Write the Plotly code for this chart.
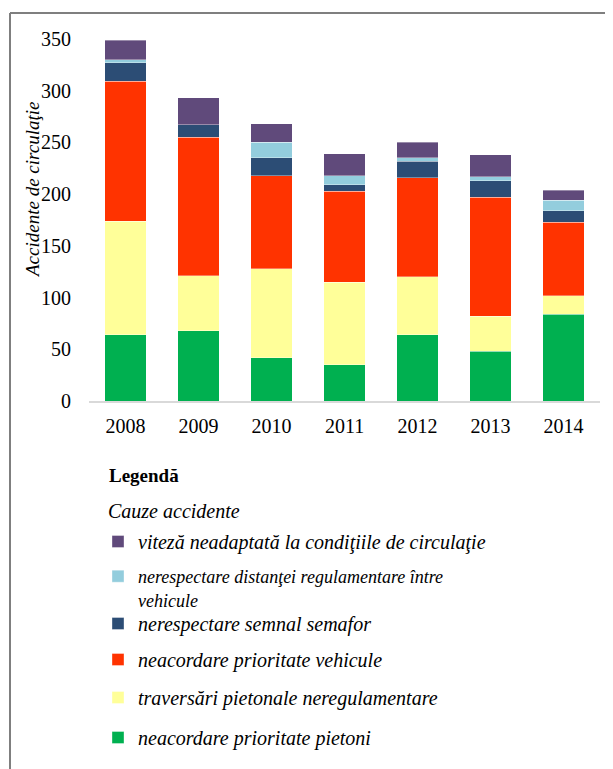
import plotly.graph_objects as go

years = ["2008", "2009", "2010", "2011", "2012", "2013", "2014"]

pietoni = [64, 68, 42, 35, 64, 48, 84]          # neacordare prioritate pietoni
traversari = [110, 53, 86, 80, 56, 34, 18]      # traversări pietonale neregulamentare
vehicule = [135, 134, 90, 88, 96, 115, 71]      # neacordare prioritate vehicule
semafor = [18, 12, 17, 6, 16, 16, 11]           # nerespectare semnal semafor
distanta = [3, 0, 15, 9, 3, 4, 10]              # nerespectare distanței
viteza = [19, 26, 18, 21, 15, 21, 10]           # viteză neadaptată

series = [
    ("neacordare prioritate pietoni", pietoni, "#00B050"),
    ("traversări pietonale neregulamentare", traversari, "#FFFF99"),
    ("neacordare prioritate vehicule", vehicule, "#FF3300"),
    ("nerespectare semnal semafor", semafor, "#2C4D75"),
    ("nerespectare distanţei regulamentare între<br>vehicule", distanta, "#93CDDD"),
    ("viteză neadaptată la condiţiile de circulaţie", viteza, "#604A7B"),
]

OFF = 8  # default page body margin
W, H = 613 - OFF, 769 - OFF
L, T = 89 - OFF, 39 - OFF
R = W - (600 - OFF)
B = H - (401 - OFF)
pw, ph = W - L - R, H - T - B

def px_x(px):  # screen pixel -> paper
    return (px - OFF - L) / pw

def px_y(py):
    return (H - B - (py - OFF)) / ph

FONT = "Liberation Serif"

fig = go.Figure()
leg_centers = {5: 541, 4: 577, 3: 623, 2: 659, 1: 697, 0: 737}
leg_sizes = {5: 20, 4: 18, 3: 20, 2: 20, 1: 20, 0: 20}
for i, (name, vals, col) in enumerate(series):
    lname = "legend" if i == 0 else f"legend{i+1}"
    fig.add_trace(go.Bar(
        x=years, y=vals, name=name,
        marker=dict(color=col, line=dict(color="rgba(255,255,255,0.6)", width=0.6)),
        legend=lname,
    ))

legends = {}
for i in range(6):
    key = "legend" if i == 0 else f"legend{i+1}"
    legends[key] = dict(
        x=px_x(98), y=px_y(leg_centers[i] - 19), xanchor="left", yanchor="top",
        bgcolor="rgba(0,0,0,0)", borderwidth=0,
        font=dict(family=FONT, size=leg_sizes[i], color="#000000", style="italic"),
        itemclick=False, itemdoubleclick=False,
        valign="top",
    )

fig.update_layout(
    width=W, height=H,
    margin=dict(l=L, r=R, t=T, b=B, autoexpand=False),
    barmode="stack", bargap=0.43,
    plot_bgcolor="white", paper_bgcolor="white",
    font=dict(family=FONT, size=20, color="#000000"),
    xaxis=dict(showgrid=False, showline=True, linecolor="#D9D9D9", linewidth=1.5,
               ticks="", tickfont=dict(family=FONT, size=20), ticklabelstandoff=6),
    yaxis=dict(range=[0, 350], dtick=50, showgrid=False, showline=False, zeroline=False,
               ticks="", tickfont=dict(family=FONT, size=20), ticklabelstandoff=17),
    showlegend=True,
    **legends,
)

fig.add_annotation(text="Accidente de circulaţie", textangle=-90,
                   xref="paper", yref="paper", x=px_x(32), y=px_y(190),
                   xanchor="center", yanchor="middle", showarrow=False,
                   font=dict(family=FONT, size=19, style="italic"))
fig.add_annotation(text="<b>Legendă</b>", xref="paper", yref="paper",
                   x=px_x(107), y=px_y(475), xanchor="left", yanchor="middle",
                   showarrow=False, font=dict(family=FONT, size=19))
fig.add_annotation(text="<i>Cauze accidente</i>", xref="paper", yref="paper",
                   x=px_x(106), y=px_y(511), xanchor="left", yanchor="middle",
                   showarrow=False, font=dict(family=FONT, size=20))

# outer frame (top and left edges)
fig.add_shape(type="line", xref="paper", yref="paper",
              x0=px_x(10), x1=px_x(613), y0=px_y(13), y1=px_y(13),
              line=dict(color="#7F7F7F", width=2))
fig.add_shape(type="line", xref="paper", yref="paper",
              x0=px_x(10), x1=px_x(10), y0=px_y(13), y1=px_y(769),
              line=dict(color="#7F7F7F", width=2))

fig.write_html("out.html")
